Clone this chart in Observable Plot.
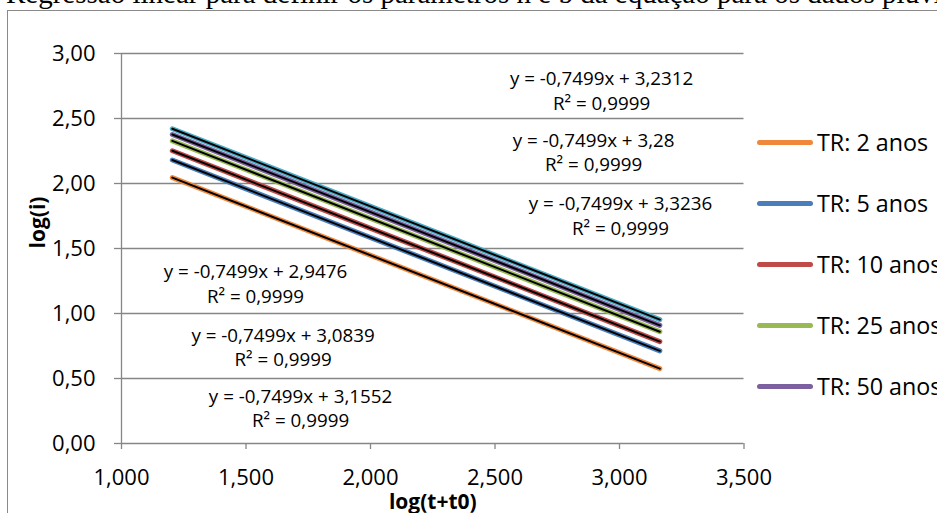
<!DOCTYPE html>
<html>
<head>
<meta charset="utf-8">
<script src="https://cdn.jsdelivr.net/npm/d3@7"></script>
<script src="https://cdn.jsdelivr.net/npm/@observablehq/plot@0.6"></script>
<style>
  html, body { margin: 0; padding: 0; background: #fff; overflow: hidden; }
  #wrap { position: relative; width: 937px; height: 513px; overflow: hidden; background: #fff; }
  #title { position: absolute; left: 6px; top: -23px; white-space: nowrap;
    font-family: "Liberation Serif", "Times New Roman", serif; font-size: 29px; color: #000; }
  #frame { position: absolute; left: 7px; top: 10px; width: 2000px; height: 2000px;
    border-left: 1.5px solid #8a8a8a; border-top: 1.5px solid #8a8a8a; }
  #chart { position: absolute; left: 0; top: 0; }
  #legend { position: absolute; left: 757px; top: 110px; width: 400px; height: 320px;
    font-family: "Open Sans", sans-serif; font-size: 23.3px; color: #000; }
  .item { position: absolute; left: 0; height: 30px; display: flex; align-items: center; white-space: nowrap; }
  .swatch { width: 56px; height: 5px; border-radius: 3px; margin-right: 4px; }
</style>
</head>
<body>
<div id="wrap">
  <div id="title"></div>
  <div id="frame"></div>
  <div id="chart"></div>
  <div id="legend"></div>
</div>
<script>
// ---- Data ----
const titleText = "Regressão linear para definir os parâmetros n e b da equação para os dados pluviométricos";
const series = ["TR: 2 anos", "TR: 5 anos", "TR: 10 anos", "TR: 25 anos", "TR: 50 anos", "TR: 100 anos"];
const legendCount = 5; // the reference legend box only shows the first five entries
const colors = ["#F0883C", "#4A7EBB", "#BE4B48", "#98B954", "#7D60A0", "#4BACC6"];
const logT = [1.204, 3.162];            // log(t+t0) at first and last duration
const logI_2 = [2.045, 0.576];
const logI_5 = [2.181, 0.713];
const logI_10 = [2.252, 0.784];
const logI_25 = [2.328, 0.860];
const logI_50 = [2.377, 0.909];
const logI_100 = [2.421, 0.953];
const seriesValues = [logI_2, logI_5, logI_10, logI_25, logI_50, logI_100];
const equations = ["y = -0,7499x + 2,9476", "y = -0,7499x + 3,0839", "y = -0,7499x + 3,1552",
                   "y = -0,7499x + 3,2312", "y = -0,7499x + 3,28", "y = -0,7499x + 3,3236"];
const r2Labels = ["R² = 0,9999", "R² = 0,9999", "R² = 0,9999", "R² = 0,9999", "R² = 0,9999", "R² = 0,9999"];
const yTicks = [0, 0.5, 1, 1.5, 2, 2.5, 3];
const xTicks = [1, 1.5, 2, 2.5, 3, 3.5];
const xLabel = "log(t+t0)";
const yLabel = "log(i)";

// ---- Annotation layout (data-space anchors of the trendline labels) ----
const labelAnchorX = [1.538, 1.649, 1.719, 2.928, 2.896, 3.004];
const labelAnchorY = [1.238, 0.750, 0.281, 2.721, 2.250, 1.760];

// ---- Build tables ----
const rows = series.flatMap((s, i) => logT.map((x, j) => ({series: s, x, y: seriesValues[i][j]})));
const labels = series.map((s, i) => ({x: labelAnchorX[i], y: labelAnchorY[i], text: equations[i] + "\n" + r2Labels[i]}));
const comma = (d, n) => d.toFixed(n).replace(".", ",");
const gray = "#868686";

document.getElementById("title").textContent = titleText;

const chart = Plot.plot({
  width: 937,
  height: 513,
  marginLeft: 121,
  marginRight: 193.5,
  marginTop: 53,
  marginBottom: 70,
  style: {fontFamily: "Open Sans, sans-serif", fontSize: "22px", color: "#000", background: "transparent"},
  x: {domain: [1, 3.5]},
  y: {domain: [0, 3]},
  color: {domain: series, range: colors},
  marks: [
    Plot.gridY(yTicks, {stroke: gray, strokeOpacity: 1, strokeWidth: 1.3}),
    Plot.ruleX([1], {stroke: gray, strokeWidth: 1.3}),
    Plot.axisY(yTicks, {tickFormat: d => comma(d, 2), tickSize: 7, tickPadding: 19, stroke: gray, strokeWidth: 1.3, fill: "#000", label: null, fontSize: 22}),
    Plot.axisX(xTicks, {tickFormat: d => comma(d, 3), tickSize: 6, tickPadding: 20, stroke: gray, strokeWidth: 1.3, fill: "#000", label: null, fontSize: 22}),
    Plot.line(rows, {x: "x", y: "y", z: "series", stroke: "series", strokeWidth: 5, strokeLinecap: "round"}),
    Plot.linearRegressionY(rows, {x: "x", y: "y", z: "series", stroke: "#000", strokeWidth: 2, ci: 0}),
    Plot.text(labels, {x: "x", y: "y", text: "text", lineHeight: 1.3, fontSize: 18.8, fill: "#000"}),
    Plot.text([yLabel], {text: d => d, frameAnchor: "left", dx: -83, rotate: -90, fontWeight: "bold", fontSize: 21, fill: "#000"}),
    Plot.text([xLabel], {text: d => d, frameAnchor: "bottom", dy: 65, fontWeight: "bold", fontSize: 21, fill: "#000"})
  ]
});
document.getElementById("chart").appendChild(chart);

// ---- Legend (from series + colors) ----
const legend = d3.select("#legend");
series.slice(0, legendCount).forEach((s, i) => {
  const item = legend.append("div").attr("class", "item").style("top", (17 + i * 61.1) + "px");
  item.append("div").attr("class", "swatch").style("background", colors[i]);
  item.append("span").text(s);
});
</script>
</body>
</html>
